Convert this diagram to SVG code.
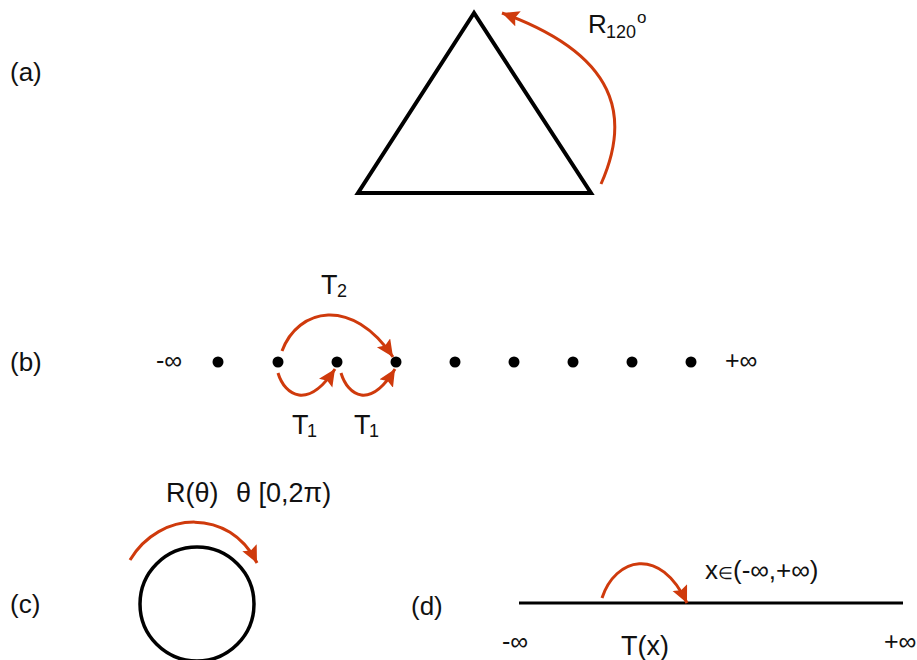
<svg xmlns="http://www.w3.org/2000/svg" width="917" height="660" viewBox="0 0 917 660">
<style>
text{font-family:"Liberation Sans",Arial,sans-serif;fill:#111}
.lbl{font-size:26px}
.big{font-size:27px}
.sub{font-size:18px}
.inf{font-size:25px}
.arc{fill:none;stroke:#CF3A0C;stroke-width:3;marker-end:url(#ah)}
.blk{fill:none;stroke:#000}
</style>
<defs>
<marker id="ah" markerUnits="userSpaceOnUse" markerWidth="20" markerHeight="18" refX="17" refY="8" orient="auto">
<path d="M0,0 L17,8 L0,16 L3,8 z" fill="#CF3A0C"/>
</marker>
</defs>
<rect width="917" height="660" fill="#fff"/>

<g id="panel-a">
<text class="lbl" x="10" y="81">(a)</text>
<polygon class="blk" points="474,13 358,193 591,193" stroke-width="4"/>
<text x="588" y="33" font-size="26">R</text>
<text x="606" y="38" class="sub">120</text>
<text x="637" y="23" font-size="17">o</text>
</g>

<g id="panel-b">
<text class="lbl" x="10" y="371">(b)</text>
<text class="inf" x="156" y="369">-∞</text>
<text class="inf" x="725" y="369">+∞</text>
<g fill="#000">
<circle cx="218" cy="362" r="5.5"/>
<circle cx="278" cy="362" r="5.5"/>
<circle cx="337" cy="362" r="5.5"/>
<circle cx="396" cy="362" r="5.5"/>
<circle cx="455" cy="362" r="5.5"/>
<circle cx="514" cy="362" r="5.5"/>
<circle cx="573" cy="362" r="5.5"/>
<circle cx="632" cy="362" r="5.5"/>
<circle cx="691" cy="362" r="5.5"/>
</g>
<text x="321" y="294" class="big">T</text>
<text x="337" y="297" class="sub">2</text>
<text x="292" y="434" class="big">T</text>
<text x="307" y="437" class="sub">1</text>
<text x="354" y="434" class="big">T</text>
<text x="369" y="437" class="sub">1</text>
</g>

<g id="panel-c">
<text class="lbl" x="10" y="613">(c)</text>
<circle class="blk" cx="197" cy="604" r="57" stroke-width="3.5"/>
<text class="big" x="166" y="502">R(θ)</text>
<text class="big" x="236" y="502">θ [0,2π)</text>
</g>

<g id="panel-d">
<text class="lbl" x="411" y="615">(d)</text>
<line class="blk" x1="519" y1="603" x2="903" y2="603" stroke-width="3"/>
<text x="705" y="579" font-size="26">x<tspan font-size="17">∈</tspan>(-∞,+∞)</text>
<text class="inf" x="502" y="650">-∞</text>
<text class="big" x="621" y="655">T(x)</text>
<text class="inf" x="884" y="650">+∞</text>
</g>

<g id="connectors">
<path class="arc" d="M601,184 C625,130 632,60 502,13"/>
<path class="arc" d="M282,351 C298,308 352,296 393,357"/>
<path class="arc" d="M278,373 C285,396 308,410 335,369"/>
<path class="arc" d="M341,373 C348,396 370,410 395,369"/>
<path class="arc" d="M130,560 C160,510 230,508 257,563"/>
<path class="arc" d="M602,598 C615,558 660,545 687,603"/>
</g>
</svg>
